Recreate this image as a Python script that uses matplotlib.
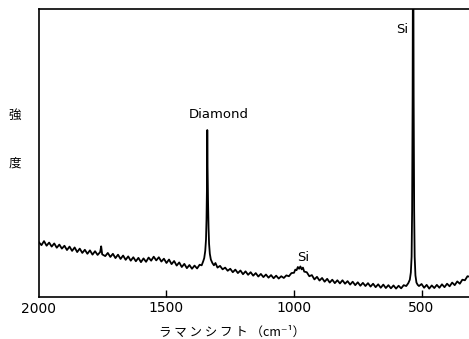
"""
    Raman spectrum of diamond film on Si substrate
"""
import numpy as np
import matplotlib.pyplot as plt

plt.rcParams['font.family'] = ['DejaVu Sans', 'Noto Sans CJK JP']

# Raman shift (cm-1) and intensity (arb. units)
shift = [2000, 1990, 1980, 1970, 1960, 1950, 1940, 1930, 1920, 1910,
         1900, 1890, 1880, 1870, 1860, 1850, 1840, 1830, 1820, 1810,
         1800, 1790, 1780, 1770, 1760, 1756, 1752, 1740, 1730, 1720, 1710,
         1700, 1690, 1680, 1670, 1660, 1650, 1640, 1630, 1620, 1610,
         1600, 1590, 1580, 1570, 1560, 1550, 1540, 1530, 1520, 1510,
         1500, 1490, 1480, 1470, 1460, 1450, 1440, 1430, 1420, 1410,
         1400, 1390, 1380, 1370, 1362, 1356, 1352, 1348, 1345, 1343,
         1341, 1340, 1339, 1337, 1335, 1333, 1330, 1326, 1320, 1314,
         1308, 1300, 1290, 1280, 1270, 1260, 1250, 1240, 1230, 1220,
         1210, 1200, 1190, 1180, 1170, 1160, 1150, 1140, 1130, 1120,
         1110, 1100, 1090, 1080, 1070, 1060, 1050, 1040, 1030, 1020,
         1010, 1000, 995, 990, 985, 980, 975, 970, 965, 960, 950, 940,
         930, 920, 910, 900, 890, 880, 870, 860, 850, 840, 830, 820,
         810, 800, 790, 780, 770, 760, 750, 740, 730, 720, 710, 700,
         690, 680, 670, 660, 650, 640, 630, 620, 610, 600, 590, 580,
         570, 560, 552, 546, 542, 539, 537, 535, 534, 533, 532, 531,
         529, 527, 524, 520, 515, 510, 500, 490, 480, 470, 460, 450,
         440, 430, 420, 410, 400, 390, 380, 370, 360, 350, 340, 330,
         320, 310]
intensity = [19.0, 18.0, 19.4, 17.8, 18.9, 17.5, 18.6, 17.1, 18.2, 16.8,
             17.8, 16.3, 17.5, 16.0, 17.2, 15.6, 16.8, 15.3, 16.4, 15.0,
             16.2, 14.7, 15.9, 14.6, 15.6, 17.6, 14.8, 14.2, 15.3, 13.9, 15.0,
             13.5, 14.7, 13.2, 14.4, 12.9, 14.1, 12.6, 13.8, 12.4, 13.6,
             12.1, 13.4, 12.2, 13.7, 12.6, 14.0, 12.7, 13.8, 12.3, 13.3,
             11.8, 13.0, 11.4, 12.5, 10.9, 12.0, 10.4, 11.5, 10.0, 11.1,
             9.8, 10.9, 9.9, 11.2, 11.0, 12.4, 13.5, 16.0, 20.0, 27.0,
             40.0, 58.0, 46.0, 33.0, 24.0, 18.5, 15.0, 13.0, 11.8, 11.0,
             11.8, 10.2, 10.8, 9.6, 10.2, 9.1, 9.8, 8.6, 9.5, 8.3,
             9.2, 7.9, 8.9, 7.7, 8.6, 7.4, 8.3, 7.1, 8.0, 6.9,
             7.8, 6.7, 7.6, 6.5, 7.4, 6.4, 7.2, 6.6, 7.5, 7.2,
             8.3, 8.4, 9.5, 9.3, 10.4, 9.8, 10.6, 9.6, 10.2, 8.8, 8.6, 7.2,
             7.6, 6.1, 7.0, 5.7, 6.6, 5.3, 6.3, 5.0, 6.0, 4.8, 5.8, 4.7,
             5.8, 4.6, 5.5, 4.3, 5.3, 4.1, 5.1, 3.9, 4.9, 3.8, 4.8, 3.6,
             4.6, 3.4, 4.4, 3.2, 4.3, 3.1, 4.1, 3.0, 4.0, 2.9, 3.9, 3.0,
             4.1, 3.8, 4.8, 6.0, 8.5, 14.0, 30.0, 70.0, 110.0, 130.0, 110.0, 70.0,
             30.0, 14.0, 7.5, 5.0, 4.2, 3.8, 4.5, 3.2, 4.2, 2.9, 4.0, 3.1,
             4.2, 3.2, 4.4, 3.4, 4.6, 3.7, 5.0, 4.1, 5.4, 4.6, 6.0, 5.8,
             7.2, 7.0]

xticks = [1500, 1000, 500]
xticklabels = ['1500', '1000', '500']

fig = plt.figure(figsize=(4.69, 3.39), dpi=100)
ax = fig.add_axes([0.083, 0.124, 0.917, 0.849])

ax.plot(shift, intensity, color='black', lw=1.3)

ax.set_xlim(2000, 314)
ax.set_ylim(0, 100)
ax.set_yticks([])
ax.set_xticks(xticks)
ax.set_xticklabels(xticklabels, fontsize=10)
ax.tick_params(axis='x', direction='in', length=5, width=1, pad=3)
ax.spines['right'].set_visible(False)
for s in ['left', 'top', 'bottom']:
    ax.spines[s].set_linewidth(1.2)

# 2000 label sits on the corner
ax.text(2000, -1.6, '2000', ha='center', va='top', fontsize=10,
        clip_on=False)

ax.text(1295, 61, 'Diamond', ha='center', va='bottom', fontsize=9.5)
ax.text(965, 11.5, 'Si', ha='center', va='bottom', fontsize=9.5)
ax.text(552, 93, 'Si', ha='right', va='center', fontsize=9.5)

ax.set_xlabel('ラ マ ン シ フ ト （cm⁻¹）', fontsize=9,
              family=['Noto Sans CJK JP', 'DejaVu Sans'])
ax.xaxis.set_label_coords(0.45, -0.1)

fig.text(0.032, 0.66, '強', ha='center', va='center', fontsize=9,
         family=['Noto Sans CJK JP'])
fig.text(0.032, 0.52, '度', ha='center', va='center', fontsize=9,
         family=['Noto Sans CJK JP'])

fig.savefig('out.png', dpi=100)
